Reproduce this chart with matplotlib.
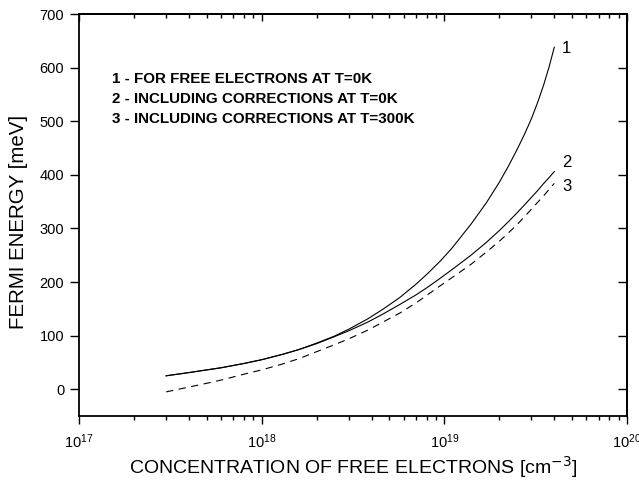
import matplotlib
matplotlib.use("Agg")
import matplotlib.pyplot as plt
from matplotlib.ticker import LogLocator, NullFormatter, FixedLocator, FixedFormatter

plt.rcParams['font.family'] = ['Liberation Sans', 'DejaVu Sans']

# concentration of free electrons [cm^-3]
conc = [3e17, 4e17, 5e17, 6e17, 8e17, 1e18, 1.3e18, 1.6e18, 2e18, 2.5e18,
        3e18, 3.8e18, 4.6e18, 5.7e18, 7e18, 8e18, 9.5e18, 1.1e19, 1.4e19,
        1.7e19, 2e19, 2.25e19, 2.5e19, 2.75e19, 3e19, 3.25e19, 3.5e19,
        3.75e19, 4e19]

# Fermi energy [meV]
e_free_0k = [25, 31, 36, 40, 48, 55, 65, 74, 86, 99,
             112, 131, 149, 171, 196, 214, 239, 263, 308,
             348, 386, 417, 447, 476, 505, 536, 568, 602, 638]
e_corr_0k = [25, 31, 36, 40, 48, 55, 65, 74, 85, 98,
             109, 125, 140, 158, 176, 189, 207, 223, 250,
             274, 296, 313, 329, 344, 358, 371, 384, 395, 406]
e_corr_300k = [-5, 4, 11, 17, 28, 36, 47, 57, 70, 83,
               94, 110, 125, 142, 161, 175, 193, 208, 233,
               256, 276, 292, 307, 322, 336, 349, 361, 373, 384]

curve_tags = ['1', '2', '3']
legend_lines = ['1 - FOR FREE ELECTRONS AT T=0K',
                '2 - INCLUDING CORRECTIONS AT T=0K',
                '3 - INCLUDING CORRECTIONS AT T=300K']

x_ticks = [1e17, 1e18, 1e19, 1e20]
x_labels = [r'$\mathregular{10^{17}}$', r'$\mathregular{10^{18}}$',
            r'$\mathregular{10^{19}}$', r'$\mathregular{10^{20}}$']

fig = plt.figure(figsize=(6.39, 4.90), dpi=100)
ax = fig.add_axes([79 / 639, 1 - 416 / 490, (627 - 79) / 639, (416 - 14) / 490])

ax.plot(conc, e_free_0k, color='black', lw=0.8)
ax.plot(conc, e_corr_0k, color='black', lw=0.8)
ax.plot(conc, e_corr_300k, color='black', lw=0.8, dashes=(6.5, 5))

ax.set_xscale('log')
ax.set_xlim(1e17, 1e20)
ax.set_ylim(-50, 700)
ax.set_yticks([0, 100, 200, 300, 400, 500, 600, 700])
ax.xaxis.set_major_locator(FixedLocator(x_ticks))
ax.xaxis.set_major_formatter(FixedFormatter(x_labels))

for sp in ax.spines.values():
    sp.set_linewidth(1.3)

ax.tick_params(axis='both', which='major', direction='out', labelsize=10.5,
               width=1.0, top=False, right=False)
ax.tick_params(axis='y', which='major', length=6.7, pad=4)
ax.tick_params(axis='x', which='major', length=5.8, pad=6)
ax.tick_params(axis='x', which='minor', direction='out', length=3, width=1.0)
ax.xaxis.set_minor_locator(LogLocator(base=10, subs=range(2, 10)))
ax.xaxis.set_minor_formatter(NullFormatter())

top = ax.secondary_xaxis('top')
top.set_xscale('log')
top.tick_params(axis='x', which='major', direction='in', length=5, width=1.0, labeltop=False)
top.tick_params(axis='x', which='minor', direction='in', length=3, width=1.0)
top.xaxis.set_minor_locator(LogLocator(base=10, subs=range(2, 10)))
top.xaxis.set_minor_formatter(NullFormatter())
top.spines['top'].set_linewidth(1.3)

right = ax.secondary_yaxis('right')
right.yaxis.set_major_locator(FixedLocator([0, 100, 200, 300, 400, 500, 600]))
right.tick_params(axis='y', direction='in', length=6.7, width=1.0, labelright=False)
right.spines['right'].set_linewidth(1.3)

ax.set_xlabel('CONCENTRATION OF FREE ELECTRONS [cm$^{-3}$]', fontsize=14, labelpad=2.6)
ax.set_ylabel('FERMI ENERGY [meV]', fontsize=14.8)
ax.yaxis.set_label_coords(-0.093, 0.4826)

# curve numbers at the right-hand ends
for tag, ys, dy in zip(curve_tags, [e_free_0k, e_corr_0k, e_corr_300k], [-3, 17, -5]):
    ax.annotate(tag, xy=(conc[-1], ys[-1] + dy), xytext=(5.5, 0),
                textcoords='offset points', fontsize=12, va='center', ha='left')

for i, line in enumerate(legend_lines):
    ax.text(0.06, 0.8276 - i * 0.0498, line, transform=ax.transAxes,
            fontsize=10.9, fontweight='bold', va='baseline', ha='left')

fig.savefig('out.png', dpi=100)
